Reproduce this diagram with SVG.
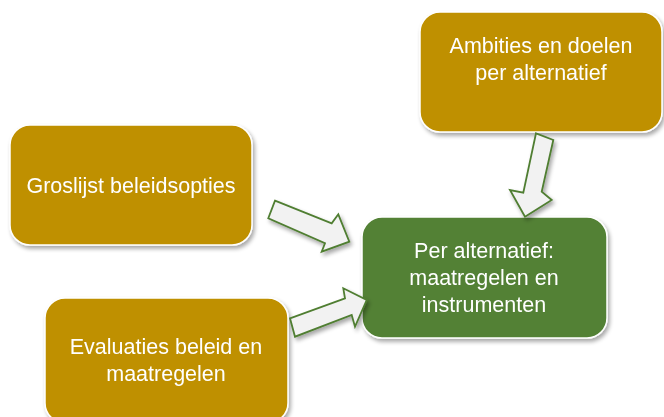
<svg xmlns="http://www.w3.org/2000/svg" width="664" height="417" viewBox="0 0 664 417">
<defs>
<filter id="sh" x="-10%" y="-10%" width="125%" height="130%">
<feGaussianBlur in="SourceAlpha" stdDeviation="2"/>
<feOffset dx="2" dy="3" result="b"/>
<feComponentTransfer><feFuncA type="linear" slope="0.35"/></feComponentTransfer>
<feMerge><feMergeNode/><feMergeNode in="SourceGraphic"/></feMerge>
</filter>
<style>
.gold{fill:#BF9000;stroke:#ffffff;stroke-width:1.5}
.green{fill:#538135;stroke:#ffffff;stroke-width:1.5}
.t{font-family:"Liberation Sans",Arial,sans-serif;font-size:21.5px;fill:#ffffff;text-anchor:middle}
.arr{fill:#F2F2F2;stroke:#507E32;stroke-width:1.8;stroke-linejoin:miter}
</style>
</defs>
<rect width="664" height="417" fill="#ffffff"/>
<g id="ambities" filter="url(#sh)">
<rect class="gold" x="420" y="12" width="242" height="120" rx="20"/>
<text class="t" x="541" y="53">Ambities en doelen</text>
<text class="t" x="541" y="80">per alternatief</text>
</g>
<g id="groslijst" filter="url(#sh)">
<rect class="gold" x="10" y="125" width="242" height="120" rx="20"/>
<text class="t" x="131" y="193">Groslijst beleidsopties</text>
</g>
<g id="evaluaties" filter="url(#sh)">
<rect class="gold" x="45" y="298" width="243" height="125" rx="20"/>
<text class="t" x="166" y="354">Evaluaties beleid en</text>
<text class="t" x="166" y="381">maatregelen</text>
</g>
<g id="per-alternatief" filter="url(#sh)">
<rect class="green" x="362" y="217" width="245" height="121" rx="20"/>
<text class="t" x="484" y="258">Per alternatief:</text>
<text class="t" x="484" y="285">maatregelen en</text>
<text class="t" x="484" y="312">instrumenten</text>
</g>
<g id="connectors" filter="url(#sh)">
<polygon class="arr" points="275,200.7 331.7,223.3 338.3,214.3 349.3,241.7 321.7,251.7 325,243.3 268.3,218.3"/>
<polygon class="arr" points="290,318.3 345,298.3 343.3,288.3 366.7,300 355,326.7 351.7,315 295,336.7"/>
<polygon class="arr" points="536,133.3 553.3,140 541.7,191.7 551.7,200 525,216.7 510,190 523.3,192.7"/>
</g>
</svg>
